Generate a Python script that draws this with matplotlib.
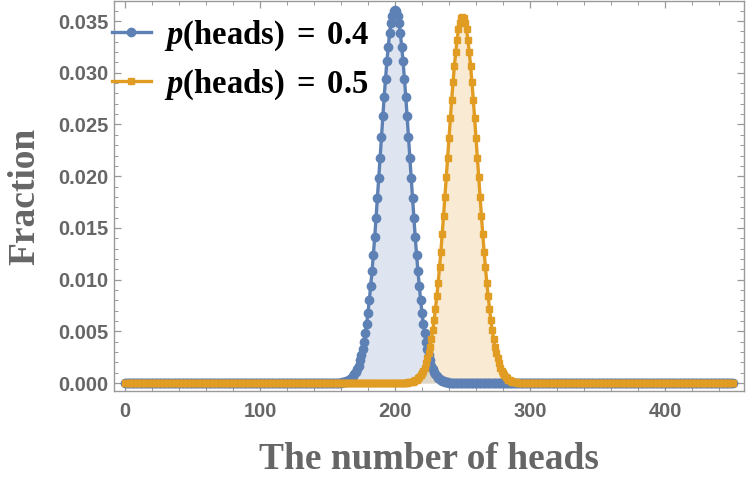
import numpy as np
import matplotlib.pyplot as plt
from matplotlib.ticker import MultipleLocator

plt.rcParams['mathtext.fontset'] = 'custom'
plt.rcParams['mathtext.it'] = 'Liberation Serif:italic:bold'
plt.rcParams['mathtext.rm'] = 'Liberation Serif:bold'

heads = np.arange(0, 451)

# p(heads)=0.4: nonzero part from 160 to 240, zero elsewhere
k04_start = 160
frac04_peak = [0.0000, 0.0001, 0.0001, 0.0001, 0.0002, 0.0002, 0.0003, 0.0004, 0.0005, 0.0007,
               0.0009, 0.0011, 0.0014, 0.0017, 0.0022, 0.0027, 0.0033, 0.0040, 0.0048, 0.0057,
               0.0068, 0.0080, 0.0094, 0.0108, 0.0124, 0.0141, 0.0160, 0.0179, 0.0198, 0.0218,
               0.0238, 0.0258, 0.0277, 0.0294, 0.0311, 0.0325, 0.0338, 0.0348, 0.0355, 0.0360,
               0.0361,
               0.0360, 0.0355, 0.0348, 0.0338, 0.0325, 0.0311, 0.0294, 0.0277, 0.0258, 0.0238,
               0.0218, 0.0198, 0.0179, 0.0160, 0.0141, 0.0124, 0.0108, 0.0094, 0.0080, 0.0068,
               0.0057, 0.0048, 0.0040, 0.0033, 0.0027, 0.0022, 0.0017, 0.0014, 0.0011, 0.0009,
               0.0007, 0.0005, 0.0004, 0.0003, 0.0002, 0.0002, 0.0001, 0.0001, 0.0001, 0.0000]

# p(heads)=0.5: nonzero part from 210 to 290
k05_start = 210
frac05_peak = [0.0001, 0.0001, 0.0001, 0.0001, 0.0002, 0.0003, 0.0003, 0.0005, 0.0006, 0.0008,
               0.0010, 0.0012, 0.0015, 0.0019, 0.0024, 0.0029, 0.0035, 0.0043, 0.0051, 0.0061,
               0.0072, 0.0084, 0.0097, 0.0112, 0.0127, 0.0144, 0.0162, 0.0180, 0.0199, 0.0218,
               0.0237, 0.0256, 0.0274, 0.0291, 0.0307, 0.0320, 0.0332, 0.0342, 0.0348, 0.0353,
               0.0354,
               0.0353, 0.0348, 0.0342, 0.0332, 0.0320, 0.0307, 0.0291, 0.0274, 0.0256, 0.0237,
               0.0218, 0.0199, 0.0180, 0.0162, 0.0144, 0.0127, 0.0112, 0.0097, 0.0084, 0.0072,
               0.0061, 0.0051, 0.0043, 0.0035, 0.0029, 0.0024, 0.0019, 0.0015, 0.0012, 0.0010,
               0.0008, 0.0006, 0.0005, 0.0003, 0.0003, 0.0002, 0.0001, 0.0001, 0.0001, 0.0001]

frac04 = np.zeros(len(heads))
frac04[k04_start:k04_start + len(frac04_peak)] = frac04_peak
frac05 = np.zeros(len(heads))
frac05[k05_start:k05_start + len(frac05_peak)] = frac05_peak

blue = '#5E81B5'
orange = '#E19C24'
grey = '#666666'

fig = plt.figure(figsize=(7.5, 4.84), dpi=100)
ax = fig.add_axes([0.152, 0.192, 0.840, 0.806])

ax.fill_between(heads, frac04, 0, color=blue, alpha=0.2, lw=0)
ax.plot(heads, frac04, color=blue, lw=2.4, marker='o', ms=6,
        label=r'$p\mathrm{(heads)}\;=\;0.4$')
ax.fill_between(heads, frac05, 0, color=orange, alpha=0.2, lw=0)
ax.plot(heads, frac05, color=orange, lw=2.4, marker='s', ms=4.2,
        label=r'$p\mathrm{(heads)}\;=\;0.5$')

ax.set_xlim(-8.1, 458.5)
ax.set_ylim(-0.00077, 0.03694)

ax.xaxis.set_major_locator(MultipleLocator(100))
ax.xaxis.set_minor_locator(MultipleLocator(20))
ax.yaxis.set_major_locator(MultipleLocator(0.005))
ax.yaxis.set_minor_locator(MultipleLocator(0.001))
ax.yaxis.set_major_formatter(plt.FuncFormatter(lambda v, p: '%.3f' % v))

for s in ax.spines.values():
    s.set_color('#999999')
    s.set_linewidth(1.0)

ax.tick_params(which='both', direction='in', top=True, right=True, color='#999999')
ax.tick_params(which='major', length=5, width=0.9)
ax.tick_params(which='minor', length=3, width=0.7)
ax.tick_params(axis='x', which='major', pad=8)
ax.tick_params(axis='y', which='major', pad=4)
for lab in ax.get_xticklabels() + ax.get_yticklabels():
    lab.set_fontfamily('Liberation Sans')
    lab.set_fontweight('bold')
    lab.set_fontsize(14.5)
    lab.set_color(grey)

ax.set_xlabel('The number of heads', family='Liberation Serif', weight='bold',
              size=27, color=grey, labelpad=15)
ax.set_ylabel('Fraction', family='Liberation Serif', weight='bold',
              size=27, color=grey, labelpad=11)

leg = fig.legend(loc='upper left', bbox_to_anchor=(0.149, 0.962), frameon=False,
                 numpoints=1, handlelength=1.2, handletextpad=0.4,
                 labelspacing=0.45, borderpad=0, borderaxespad=0,
                 prop={'family': 'Liberation Serif', 'weight': 'bold', 'size': 23.5})

fig.savefig('out.png', dpi=100)
